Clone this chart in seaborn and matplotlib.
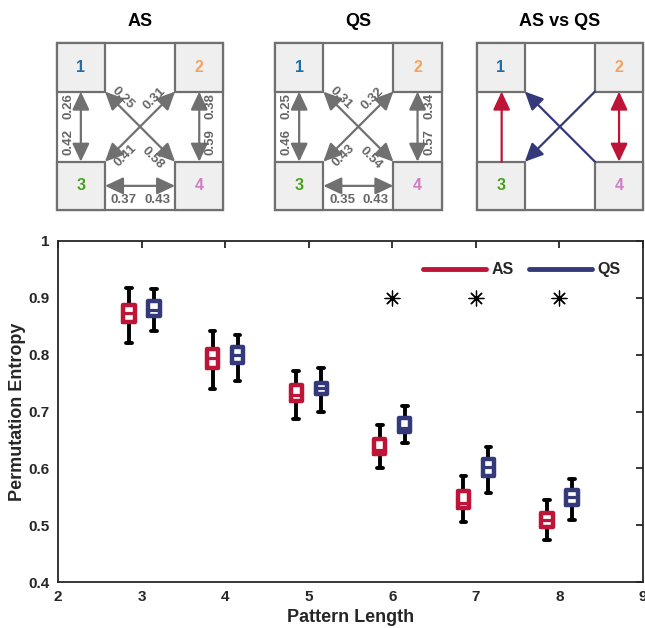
import numpy as np
import pandas as pd
import matplotlib
matplotlib.use("Agg")
import matplotlib.pyplot as plt
import seaborn as sns
from matplotlib.patches import Rectangle, FancyArrowPatch
from matplotlib.lines import Line2D

# ---------------- data ----------------
pattern_length = [3, 4, 5, 6, 7, 8]
groups = ["AS", "QS"]
as_whislo = [0.821, 0.739, 0.687, 0.600, 0.505, 0.474]
as_q1     = [0.857, 0.776, 0.718, 0.626, 0.531, 0.497]
as_med    = [0.874, 0.794, 0.729, 0.632, 0.539, 0.509]
as_q3     = [0.888, 0.810, 0.747, 0.651, 0.560, 0.522]
as_whishi = [0.918, 0.842, 0.772, 0.676, 0.586, 0.544]
qs_whislo = [0.841, 0.754, 0.700, 0.644, 0.557, 0.509]
qs_q1     = [0.868, 0.785, 0.730, 0.664, 0.587, 0.535]
qs_med    = [0.878, 0.799, 0.741, 0.671, 0.603, 0.550]
qs_q3     = [0.894, 0.813, 0.751, 0.688, 0.617, 0.561]
qs_whishi = [0.916, 0.835, 0.776, 0.709, 0.637, 0.581]
signif_lengths = [6, 7, 8]
signif_level = [0.9, 0.9, 0.9]
x_ticks = [2, 3, 4, 5, 6, 7, 8, 9]
y_ticks = [0.4, 0.5, 0.6, 0.7, 0.8, 0.9, 1.0]
y_ticklabels = ["0.4", "0.5", "0.6", "0.7", "0.8", "0.9", "1"]

node_labels = ["1", "2", "3", "4"]
# transition probabilities: (1-3 top, 1-3 bottom), (2-4 top, 2-4 bottom), (3-4 left, 3-4 right),
# diagonals (near 1, near 2, near 3, near 4)
as_left, as_right, as_bottom = [0.26, 0.42], [0.38, 0.59], [0.37, 0.43]
as_diag = [0.25, 0.31, 0.41, 0.58]
qs_left, qs_right, qs_bottom = [0.25, 0.46], [0.34, 0.57], [0.35, 0.43]
qs_diag = [0.31, 0.32, 0.43, 0.54]
panel_titles = ["AS", "QS", "AS vs QS"]

# ---------------- style ----------------
RED = "#BE1437"
NAVY = "#34397A"
GRAY = "#707070"
LBLGRAY = "#666666"
node_colors = ["#1F6EA6", "#F6A25E", "#47A01C", "#CF7FC6"]

sns.set_style("white")
plt.rcParams["font.family"] = ["Liberation Sans", "DejaVu Sans"]

W, H = 645, 628
fig = plt.figure(figsize=(W / 100, H / 100), dpi=100)

# ---------------- main box plot ----------------
rows = []
for g, stats in (("AS", (as_whislo, as_q1, as_med, as_q3, as_whishi)),
                 ("QS", (qs_whislo, qs_q1, qs_med, qs_q3, qs_whishi))):
    for i, L in enumerate(pattern_length):
        for s in stats:
            rows.append({"Pattern Length": L, "Group": g, "Permutation Entropy": s[i]})
df = pd.DataFrame(rows)

ax = fig.add_axes([58 / W, 1 - 582 / H, (643 - 58) / W, (582 - 241) / H])
sns.boxplot(data=df, x="Pattern Length", y="Permutation Entropy", hue="Group",
            hue_order=groups, palette=[RED, NAVY], native_scale=True, fill=False,
            width=0.6, gap=0.55, whis=(0, 100), linewidth=3.2, legend=False,
            showfliers=False, ax=ax,
            boxprops=dict(linewidth=3.2, solid_joinstyle="round", zorder=3),
            medianprops=dict(linewidth=2.3, zorder=3),
            whiskerprops=dict(color="black", linewidth=2.8, zorder=2),
            capprops=dict(color="black", linewidth=2.8, zorder=2))

sns.scatterplot(x=signif_lengths, y=signif_level, marker=(8, 2, 0), s=115,
                color="black", linewidth=0.9, ax=ax, legend=False, zorder=4)

ax.set_xlim(2, 9)
ax.set_ylim(0.4, 1.0)
ax.set_xticks(x_ticks)
ax.set_xticklabels([str(t) for t in x_ticks])
ax.set_yticks(y_ticks)
ax.set_yticklabels(y_ticklabels)
ax.tick_params(direction="in", top=True, right=True, length=5, width=1.3,
               labelsize=11, colors="#262626", pad=6)
for lab in ax.get_xticklabels() + ax.get_yticklabels():
    lab.set_fontweight("bold")
for sp in ax.spines.values():
    sp.set_visible(True)
    sp.set_color("#262626")
    sp.set_linewidth(1.3)
ax.set_xlabel("Pattern Length", fontsize=13, fontweight="bold", labelpad=3)
ax.set_ylabel("Permutation Entropy", fontsize=13, fontweight="bold", labelpad=2)

handles = [Line2D([0], [0], color=RED, lw=3.5), Line2D([0], [0], color=NAVY, lw=3.5)]
ax.legend(handles, groups, ncol=2, frameon=False, loc="center right",
          bbox_to_anchor=(0.975, 0.915), handlelength=3.9, handletextpad=0.35,
          columnspacing=1.0, borderpad=0, prop=dict(weight="bold", size=11.5))

# ---------------- state diagrams ----------------
S = 166.7
C = 48.3
TOP = 43.3
ARR2 = "<|-|>,head_length=0.85,head_width=0.4"
ARR1 = "-|>,head_length=0.85,head_width=0.4"


def make_panel(lx, title):
    pax = fig.add_axes([lx / W, 1 - (TOP + S) / H, S / W, S / H])
    pax.set_xlim(0, S)
    pax.set_ylim(S, 0)
    pax.axis("off")
    pax.add_patch(Rectangle((0, 0), S, S, fill=False, ec=GRAY, lw=1.6, clip_on=False))
    corners = [(0, 0), (S - C, 0), (0, S - C), (S - C, S - C)]
    for (x0, y0), lab, col in zip(corners, node_labels, node_colors):
        pax.add_patch(Rectangle((x0, y0), C, C, fc="#EFEFEF", ec=GRAY, lw=1.6,
                                clip_on=False))
        pax.text(x0 + C / 2, y0 + C / 2, lab, color=col, ha="center", va="center",
                 fontsize=11.5, fontweight="bold")
    fig.text((lx + S / 2) / W, 1 - 22 / H, title, ha="center", va="center",
             fontsize=13, fontweight="bold", color="black")
    return pax


def arrow(pax, p, q, style, color):
    pax.add_patch(FancyArrowPatch(p, q, arrowstyle=style, mutation_scale=13, lw=1.6,
                                  color=color, shrinkA=0, shrinkB=0, clip_on=False))


def label(pax, x, y, v, rot):
    pax.text(x, y, f"{v:.2f}", ha="center", va="center", rotation=rot,
             rotation_mode="anchor", fontsize=9.5, fontweight="bold", color=LBLGRAY)


def prob_panel(lx, title, left, right, bottom, diag):
    pax = make_panel(lx, title)
    mid = C / 2
    arrow(pax, (mid, C), (mid, S - C), ARR2, GRAY)
    arrow(pax, (S - mid, C), (S - mid, S - C), ARR2, GRAY)
    arrow(pax, (C, S - mid), (S - C, S - mid), ARR2, GRAY)
    arrow(pax, (C, C), (S - C, S - C), ARR2, GRAY)
    arrow(pax, (S - C, C), (C, S - C), ARR2, GRAY)
    label(pax, 12, 63, left[0], 90)
    label(pax, 12, 99, left[1], 90)
    label(pax, S - 12.5, 63, right[0], 90)
    label(pax, S - 12.5, 99, right[1], 90)
    label(pax, 67, 156.5, bottom[0], 0)
    label(pax, 100.5, 156.5, bottom[1], 0)
    label(pax, 66, 55, diag[0], -45)
    label(pax, 98, 55, diag[1], 45)
    label(pax, 69, 112, diag[2], 45)
    label(pax, 96, 115, diag[3], -45)


prob_panel(56.7, panel_titles[0], as_left, as_right, as_bottom, as_diag)
prob_panel(275.0, panel_titles[1], qs_left, qs_right, qs_bottom, qs_diag)

cax = make_panel(476.5, panel_titles[2])
mid = C / 2
arrow(cax, (mid + 1, S - C), (mid + 1, C), ARR1, RED)
arrow(cax, (S - mid, C), (S - mid, S - C), ARR2, RED)
arrow(cax, (S - C, S - C), (C, C), ARR1, NAVY)
arrow(cax, (S - C, C), (C, S - C), ARR1, NAVY)

fig.savefig("out.png", dpi=100)
